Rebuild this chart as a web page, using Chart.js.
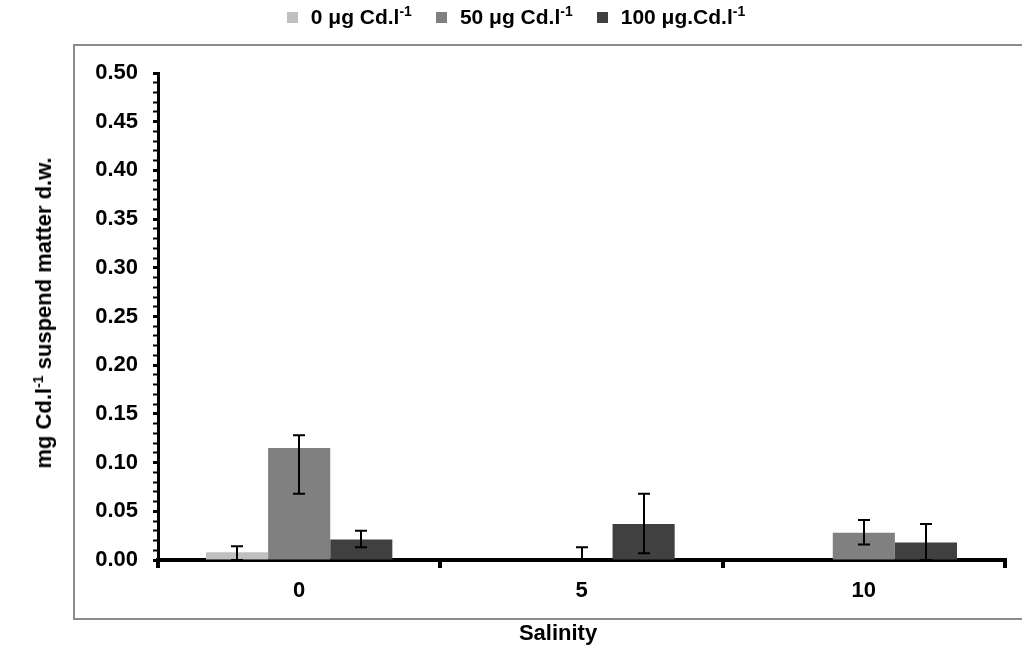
<!DOCTYPE html>
<html>
<head>
<meta charset="utf-8">
<script src="https://cdn.jsdelivr.net/npm/chart.js@4.4.0/dist/chart.umd.min.js"></script>
<style>
  html, body { margin: 0; padding: 0; background: #fff; }
  #wrap { position: relative; width: 1022px; height: 646px; overflow: hidden;
          font-family: "Liberation Sans", Arial, sans-serif; font-weight: bold; color: #000; }
  #frame { position: absolute; left: 73px; top: 44px; width: 980px; height: 576px;
           border: 2px solid #8c8c8c; box-sizing: border-box; }
  #chart { position: absolute; left: 0; top: 0; }
  #legend { position: absolute; left: 0; width: 1022px; top: 5px; display: flex; justify-content: center;
            align-items: center; font-size: 21px; white-space: nowrap; padding-left: 10px; box-sizing: border-box; }
  .item { display: flex; align-items: center; margin: 0 12px; }
  .box { width: 11px; height: 11px; margin-right: 13px; }
  sup { font-size: 14px; vertical-align: 8px; line-height: 0; }
  #ytitle { position: absolute; left: 44px; top: 313px; font-size: 22px; white-space: nowrap;
            transform: translate(-50%, -50%) rotate(-90deg); }
  #xtitle { position: absolute; left: 558px; top: 633px; font-size: 22px;
            transform: translate(-50%, -50%); }
</style>
</head>
<body>
<div id="wrap">
  <div id="frame"></div>
  <canvas id="chart" width="1022" height="646"></canvas>
  <div id="legend"></div>
  <div id="ytitle">mg Cd.l<sup>-1</sup> suspend matter d.w.</div>
  <div id="xtitle">Salinity</div>
</div>
<script>
// Salinity groups
const categories = ["0", "5", "10"];

// Series names (legend), split so the "-1" can be a superscript
const seriesNames = ["0 \u03bcg Cd.l", "50 \u03bcg Cd.l", "100 \u03bcg.Cd.l"];
const seriesColors = ["#c0c0c0", "#808080", "#404040"];

// Means (mg Cd/l suspended matter d.w.)
const cd0 = [0.008, 0, 0];
const cd50 = [0.115, 0, 0.028];
const cd100 = [0.021, 0.037, 0.018];

// Error bars: upper and lower extents (null = none drawn)
const cd0Plus = [0.006, null, null];
const cd0Minus = [0.008, null, null];
const cd50Plus = [0.013, 0.013, 0.013];
const cd50Minus = [0.047, 0, 0.012];
const cd100Plus = [0.009, 0.031, 0.019];
const cd100Minus = [0.008, 0.030, 0.018];

const yTicks = [0, 0.05, 0.1, 0.15, 0.2, 0.25, 0.3, 0.35, 0.4, 0.45, 0.5];

const values = [cd0, cd50, cd100];
const plus = [cd0Plus, cd50Plus, cd100Plus];
const minus = [cd0Minus, cd50Minus, cd100Minus];

// HTML legend (needs superscripts)
const legend = document.getElementById("legend");
seriesNames.forEach((name, i) => {
  const item = document.createElement("div");
  item.className = "item";
  item.innerHTML = '<span class="box" style="background:' + seriesColors[i] + '"></span>' +
    '<span>' + name + '<sup>-1</sup></span>';
  legend.appendChild(item);
});

// Error bars drawn from the bar elements and the y scale
const errorBars = {
  id: "errorBars",
  afterDatasetsDraw(chart) {
    const ctx = chart.ctx;
    const y = chart.scales.y;
    ctx.save();
    ctx.strokeStyle = "#000";
    ctx.lineWidth = 2;
    chart.data.datasets.forEach((ds, d) => {
      const meta = chart.getDatasetMeta(d);
      meta.data.forEach((bar, i) => {
        const p = plus[d][i];
        const m = minus[d][i];
        if (p === null || m === null) return;
        const v = values[d][i];
        const top = y.getPixelForValue(v + p);
        const bottom = y.getPixelForValue(v - m);
        const x = Math.round(bar.x);
        ctx.beginPath();
        ctx.moveTo(x, top);
        ctx.lineTo(x, bottom);
        ctx.moveTo(x - 6, top);
        ctx.lineTo(x + 6, top);
        ctx.moveTo(x - 6, bottom);
        ctx.lineTo(x + 6, bottom);
        ctx.stroke();
      });
    });
    ctx.restore();
  },
};

const tickFont = { family: "'Liberation Sans', Arial, sans-serif", size: 22, weight: "bold" };

new Chart(document.getElementById("chart"), {
  type: "bar",
  data: {
    labels: categories,
    datasets: values.map((data, i) => ({
      label: seriesNames[i],
      data: data,
      backgroundColor: seriesColors[i],
      borderWidth: 0,
      categoryPercentage: 0.66,
      barPercentage: 1,
    })),
  },
  options: {
    responsive: false,
    animation: false,
    layout: { padding: { left: 0, right: 17, top: 73, bottom: 0 } },
    plugins: { legend: { display: false }, tooltip: { enabled: false } },
    scales: {
      x: {
        afterFit: (scale) => { scale.height = 86; },
        border: { color: "#000", width: 4 },
        grid: { drawOnChartArea: false, offset: true, color: "#000", lineWidth: 4, tickLength: 8 },
        ticks: { color: "#000", font: tickFont, padding: 10 },
      },
      y: {
        min: 0,
        max: 0.5,
        afterFit: (scale) => { scale.width = 158; },
        border: { color: "#000", width: 3 },
        grid: {
          drawOnChartArea: false,
          color: "#000",
          tickLength: 5,
          tickWidth: (c) => (yTicks.some((t) => Math.abs(t - c.tick.value) < 1e-6) ? 3 : 2),
        },
        ticks: {
          stepSize: 0.01,
          autoSkip: false,
          color: "#000",
          font: tickFont,
          padding: 15,
          callback: (v) => (yTicks.some((t) => Math.abs(t - v) < 1e-6) ? v.toFixed(2) : ""),
        },
      },
    },
  },
  plugins: [errorBars],
});
</script>
</body>
</html>
